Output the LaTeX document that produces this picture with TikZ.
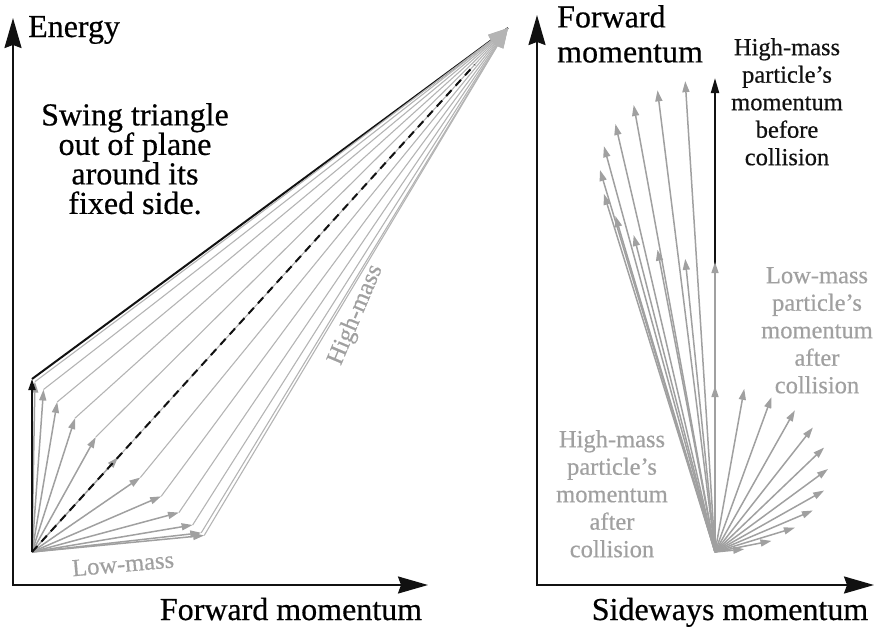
\documentclass[tikz,border=0pt]{standalone}
\usepackage{fontspec}
\setmainfont{Liberation Serif}[FakeBold=0.5]
\usepackage{tikz}
\usetikzlibrary{positioning,arrows.meta,calc}
\definecolor{ink}{HTML}{111111}
\definecolor{greyish}{HTML}{A0A0A0}
\definecolor{pale}{HTML}{B4B4B4}

\begin{document}
\begin{tikzpicture}[x=1pt,y=-1pt,
  axis/.style={ink,line width=2pt,{Stealth[length=30pt,width=17pt,inset=3pt]}-{Stealth[length=30pt,width=17pt,inset=3pt]}},
  vec/.style={greyish,line width=1.5pt,-{Triangle[length=11pt,width=7pt]}},
  side/.style={pale,line width=1.1pt,-{Triangle[length=20pt,width=13pt]}},
  big/.style={font=\fontsize{32}{29.5}\selectfont,inner sep=0pt},
  small/.style={font=\fontsize{24.5}{27.5}\selectfont,inner sep=0pt,align=center}]
  \useasboundingbox (0,0) rectangle (876,627);
  % left panel: energy vs forward momentum
  \draw[axis] (13,18) coordinate (etop) -- (13,585) coordinate (lorg) -- (428,585) coordinate (pright);
  \coordinate (O) at (32,552);
  \coordinate (A) at (508,28);
  \coordinate (C0) at (32,379);
  \coordinate (F) at ($(O)!(C0)!(A)$);
  \draw[ink,line width=2pt] (C0) -- (A);
  \foreach \t in {180,165,...,15}{\pgfmathsetmacro{\k}{cos(\t)}
     \coordinate (c\t) at ($(F)!\k!(C0)$);
     \draw[vec] (O) -- (c\t);
     \draw[side] (c\t) -- (A);}
  \draw[ink,line width=2pt,-{Triangle[length=11pt,width=7pt]}] (O) -- (C0);
  \draw[ink,line width=2pt,dash pattern=on 8pt off 6pt] (O) -- ($(O)!0.93!(A)$);
  \node[big,anchor=base west] (energy) at (28,37) {Energy};
  \node[big,align=center,anchor=north] (swing) at (135,103) {Swing triangle\\out of plane\\around its\\fixed side.};
  \node[big,anchor=base] (fwd) at (291,620) {Forward momentum};
  \node[small,text=greyish,rotate=5] (lowlbl) at (123,564) {Low-mass};
  \node[small,text=greyish,rotate=67] (highlbl) at (356,315) {High-mass};
  % right panel: forward vs sideways momentum
  \draw[axis] (537,15) coordinate (ftop) -- (537,585) coordinate (rorg) -- (874,585) coordinate (sright);
  \coordinate (Q) at (715,552);
  \coordinate (P) at (715,78);
  \draw[ink,line width=2pt,-{Triangle[length=15pt,width=8pt]}] (Q) -- (P);
  \foreach \t in {15,30,...,180}{
     \coordinate (lo\t) at ($(Q)+({113*sin(\t)},{-83*(1-cos(\t))})$);
     \coordinate (hi\t) at ($(P)+({-115*sin(\t)},{92*(1-cos(\t))})$);
     \draw[vec] (Q) -- (lo\t);
     \draw[vec] (Q) -- (hi\t);}
  \node[big,align=left,anchor=north west,font=\fontsize{32}{35}\selectfont] (fwdlbl) at (557,5) {Forward\\momentum};
  \node[small,text=ink,anchor=north] (before) at (787,38) {High-mass\\particle’s\\momentum\\before\\collision};
  \node[small,text=greyish,anchor=north] (lowafter) at (817,267) {Low-mass\\particle’s\\momentum\\after\\collision};
  \node[small,text=greyish,anchor=north] (highafter) at (612,430) {High-mass\\particle’s\\momentum\\after\\collision};
  \node[big,anchor=base] (sidelbl) at (730,620) {Sideways momentum};
\end{tikzpicture}
\end{document}
